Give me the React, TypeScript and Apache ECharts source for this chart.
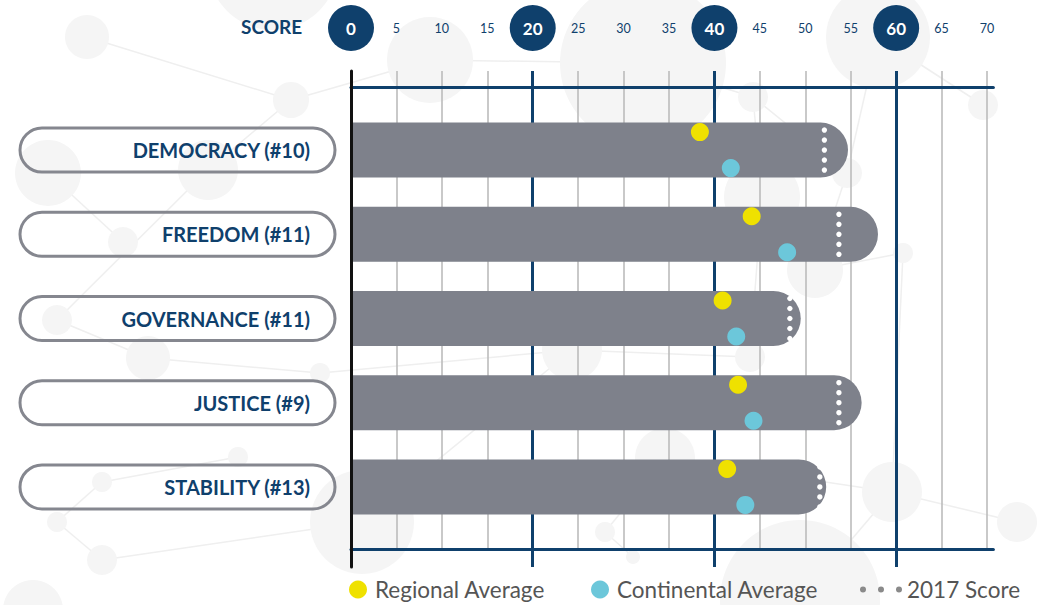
import React, { useEffect, useRef } from 'react';
import * as echarts from 'echarts';

// ---- data ----
const categories = ['DEMOCRACY (#10)', 'FREEDOM (#11)', 'GOVERNANCE (#11)', 'JUSTICE (#9)', 'STABILITY (#13)'];
const scores = [54.7, 58.0, 49.5, 56.2, 52.3];
const score2017 = [52.1, 53.7, 48.3, 53.7, 51.6];
const regionalAvg = [38.4, 44.1, 40.9, 42.6, 41.4];
const continentalAvg = [41.8, 48.0, 42.4, 44.3, 43.4];
const axisMin = 0;
const axisMax = 70;
const minorStep = 5;
const majorStep = 20;

// ---- style ----
const DARK = '#0f406c';
const BAR = '#7e818b';
const YELLOW = '#efe100';
const CYAN = '#6cc7da';
const PILL = '#85878f';
const FONT = 'Lato';

// layout
const LEFT = 351;
const UNIT = 9.086;
const RIGHT70 = 1045 - LEFT - UNIT * axisMax;
const LINE_MAX = 70.7;
const RIGHT_LINE = 1045 - LEFT - UNIT * LINE_MAX;

// decorative background network
const bgNodes: number[][] = [
  [87, 37, 22], [273, -35, 65], [291, 100, 18], [430, 60, 43], [48, 173, 33], [208, 170, 30],
  [123, 242, 15], [643, 63, 83], [878, 37, 52], [753, 97, 15], [983, 105, 15], [847, 173, 15],
  [762, 197, 38], [815, 270, 28], [903, 253, 10], [57, 320, 15], [148, 358, 22], [320, 373, 10],
  [238, 457, 10], [102, 482, 10], [57, 522, 10], [102, 560, 15], [362, 522, 52], [33, 610, 30],
  [572, 350, 30], [750, 357, 15], [665, 458, 30], [892, 492, 30], [1017, 522, 20], [605, 532, 10],
  [633, 557, 7], [800, 600, 80],
];
const bgLinks: number[][] = [
  [0, 2], [2, 3], [2, 5], [4, 5], [4, 6], [3, 7], [7, 9], [9, 12], [9, 11], [11, 13], [12, 13],
  [8, 11], [8, 10], [13, 14], [15, 16], [16, 17], [18, 19], [19, 20], [20, 21], [21, 22], [22, 24],
  [24, 25], [26, 29], [29, 30], [26, 27], [27, 28], [27, 31], [12, 25], [5, 15], [17, 24], [14, 27],
];

export default function App() {
  const ref = useRef<HTMLDivElement>(null);
  useEffect(() => {
    if (!ref.current) return;
    const chart = echarts.init(ref.current, undefined, { renderer: 'svg' });

    const graphicEls: any[] = [];
    bgLinks.forEach(([a, b]) => {
      graphicEls.push({
        type: 'line', z: -10, silent: true,
        shape: { x1: bgNodes[a][0], y1: bgNodes[a][1], x2: bgNodes[b][0], y2: bgNodes[b][1] },
        style: { stroke: '#efefef', lineWidth: 1.5 },
      });
    });
    bgNodes.forEach(([x, y, r]) => {
      graphicEls.push({ type: 'circle', z: -9, silent: true, shape: { cx: x, cy: y, r }, style: { fill: '#f5f5f5' } });
    });

    const hiddenY = (gridIndex: number) => ({
      type: 'value', gridIndex, show: false,
    });

    const option: any = {
      animation: false,
      backgroundColor: '#ffffff',
      title: {
        text: 'SCORE', left: 241, top: 17, padding: 0,
        textStyle: { color: DARK, fontFamily: FONT, fontWeight: 'bold', fontSize: 19 },
      },
      graphic: { elements: graphicEls },
      grid: [
        { left: LEFT, right: RIGHT70, top: 71, height: 478, outerBoundsMode: 'none' },
        { left: LEFT, right: RIGHT70, top: 71, height: 496, outerBoundsMode: 'none' },
        { left: LEFT, right: RIGHT_LINE, top: 87, height: 462, outerBoundsMode: 'none' },
        { left: LEFT, right: RIGHT70, top: 108, height: 421, outerBoundsMode: 'none' },
      ],
      xAxis: [
        {
          type: 'value', gridIndex: 0, position: 'top', min: axisMin, max: axisMax, interval: minorStep,
          axisLine: { show: false }, axisTick: { show: false },
          splitLine: { show: true, lineStyle: { color: '#bcbcbc', width: 1.6 } },
          axisLabel: {
            show: true, margin: 20,
            formatter: (v: number) => (v % majorStep === 0 ? `{maj|${v}}` : `{min|${v}}`),
            rich: {
              maj: {
                width: 46, height: 46, lineHeight: 46, borderRadius: 23, backgroundColor: DARK,
                color: '#ffffff', fontWeight: 'bold', fontSize: 17, fontFamily: FONT, align: 'center',
              },
              min: { height: 46, lineHeight: 46, color: DARK, fontSize: 12.5, fontFamily: FONT },
            },
          },
        },
        {
          type: 'value', gridIndex: 1, min: axisMin, max: axisMax, interval: majorStep,
          axisLine: { show: false }, axisTick: { show: false }, axisLabel: { show: false },
          splitLine: { show: true, showMinLine: false, showMaxLine: false, lineStyle: { color: DARK, width: 3 } },
        },
        {
          type: 'value', gridIndex: 2, position: 'top', min: axisMin, max: LINE_MAX, z: 1,
          axisLine: { show: true, onZero: false, lineStyle: { color: DARK, width: 3 } },
          axisTick: { show: false }, axisLabel: { show: false }, splitLine: { show: false },
        },
        {
          type: 'value', gridIndex: 2, position: 'bottom', min: axisMin, max: LINE_MAX, z: 1,
          axisLine: { show: true, onZero: false, lineStyle: { color: DARK, width: 3 } },
          axisTick: { show: false }, axisLabel: { show: false }, splitLine: { show: false },
        },
        {
          type: 'value', gridIndex: 3, min: axisMin, max: axisMax, show: false,
        },
      ],
      yAxis: [
        hiddenY(0),
        {
          type: 'value', gridIndex: 1, z: 5,
          axisLine: { show: true, onZero: false, lineStyle: { color: '#111111', width: 3 } },
          axisTick: { show: false }, axisLabel: { show: false }, splitLine: { show: false },
        },
        hiddenY(2),
        {
          type: 'category', gridIndex: 3, inverse: true, data: categories,
          axisLine: { show: false }, axisTick: { show: false }, splitLine: { show: false },
          axisLabel: {
            margin: 16,
            formatter: (v: string) => `{box|${v}}`,
            rich: {
              box: {
                width: 290, height: 44, lineHeight: 44, align: 'right', padding: [0, 25, 0, 0],
                borderColor: PILL, borderWidth: 3, borderRadius: 24,
                color: DARK, fontFamily: FONT, fontWeight: 'bold', fontSize: 20,
              },
            },
          },
        },
      ],
      legend: [
        {
          left: 349, top: 578, padding: 0, itemWidth: 18, itemHeight: 18, itemGap: 46, icon: 'circle',
          data: ['Regional Average', 'Continental Average'],
          textStyle: { color: '#555555', fontSize: 22.5, fontFamily: FONT, padding: [0, 0, 0, 3] },
        },
        {
          left: 860, top: 578, padding: 0, itemWidth: 42, itemHeight: 6,
          data: [{
            name: '2017 Score',
            icon: 'path://M0,3a3,3 0 1,0 6,0a3,3 0 1,0 -6,0M18,3a3,3 0 1,0 6,0a3,3 0 1,0 -6,0M36,3a3,3 0 1,0 6,0a3,3 0 1,0 -6,0',
            itemStyle: { color: '#8a8a8a' },
          }],
          textStyle: { color: '#555555', fontSize: 22.5, fontFamily: FONT },
        },
      ],
      series: [
        {
          name: 'Score', type: 'bar', xAxisIndex: 4, yAxisIndex: 3, data: scores, barWidth: 55,
          itemStyle: { color: BAR, borderRadius: [0, 27.5, 27.5, 0] }, z: 2,
        },
        {
          name: '2017 Score', type: 'custom', xAxisIndex: 4, yAxisIndex: 3, z: 3,
          itemStyle: { color: '#8a8a8a' },
          data: score2017.map((v, i) => [v, i]),
          encode: { x: 0, y: 1 },
          renderItem: (params: any, api: any) => {
            const p = api.coord([api.value(0), api.value(1)]);
            const offs = [-20, -10, 0, 10, 20];
            return {
              type: 'group',
              children: offs.map((o) => ({
                type: 'circle', shape: { cx: p[0], cy: p[1] + o, r: 2.7 }, style: { fill: '#ffffff' },
              })),
            };
          },
        },
        {
          name: 'Regional Average', type: 'scatter', xAxisIndex: 4, yAxisIndex: 3, z: 4,
          data: regionalAvg.map((v, i) => [v, i]), symbol: 'circle', symbolSize: 18, symbolOffset: [0, -18],
          itemStyle: { color: YELLOW, opacity: 1 },
        },
        {
          name: 'Continental Average', type: 'scatter', xAxisIndex: 4, yAxisIndex: 3, z: 4,
          data: continentalAvg.map((v, i) => [v, i]), symbol: 'circle', symbolSize: 18, symbolOffset: [0, 18],
          itemStyle: { color: CYAN, opacity: 1 },
        },
      ],
    };
    chart.setOption(option);
    return () => chart.dispose();
  }, []);
  return (
    <div
      ref={ref}
      style={{ position: 'absolute', left: 0, top: 0, width: 1045, height: 605, background: '#fff' }}
    />
  );
}
